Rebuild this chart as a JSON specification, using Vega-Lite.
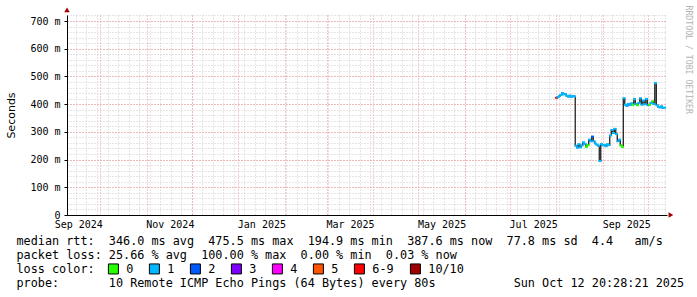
{
  "$schema": "https://vega.github.io/schema/vega-lite/v6.json",
  "width": 600,
  "height": 200,
  "autosize": {"type": "none"},
  "padding": {"left": 67, "top": 15, "right": 30, "bottom": 82},
  "background": "white",
  "config": {
    "view": {"stroke": null},
    "axis": {"labelFont": "DejaVu Sans Mono", "labelFontSize": 10, "labelColor": "#000000", "titleColor": "#000000"}
  },
  "data": {"values": [
    {"t": "2025-08-01T00:00", "rtt": 0.423, "loss": "6-9"},
    {"t": "2025-08-02T00:00", "rtt": 0.425, "loss": "1"},
    {"t": "2025-08-03T00:00", "rtt": 0.429, "loss": "1"},
    {"t": "2025-08-04T00:00", "rtt": 0.433, "loss": "1"},
    {"t": "2025-08-05T00:00", "rtt": 0.440, "loss": "1"},
    {"t": "2025-08-06T00:00", "rtt": 0.435, "loss": "1"},
    {"t": "2025-08-07T00:00", "rtt": 0.437, "loss": "1"},
    {"t": "2025-08-08T00:00", "rtt": 0.430, "loss": "1"},
    {"t": "2025-08-09T00:00", "rtt": 0.427, "loss": "1"},
    {"t": "2025-08-10T00:00", "rtt": 0.431, "loss": "1"},
    {"t": "2025-08-11T00:00", "rtt": 0.426, "loss": "1"},
    {"t": "2025-08-12T00:00", "rtt": 0.429, "loss": "1"},
    {"t": "2025-08-13T00:00", "rtt": 0.428, "loss": "1"},
    {"t": "2025-08-14T00:00", "rtt": 0.250, "loss": "1"},
    {"t": "2025-08-15T00:00", "rtt": 0.243, "loss": "1"},
    {"t": "2025-08-16T00:00", "rtt": 0.255, "loss": "1"},
    {"t": "2025-08-17T00:00", "rtt": 0.244, "loss": "1"},
    {"t": "2025-08-18T00:00", "rtt": 0.251, "loss": "1"},
    {"t": "2025-08-19T00:00", "rtt": 0.262, "loss": "1"},
    {"t": "2025-08-20T00:00", "rtt": 0.257, "loss": "1"},
    {"t": "2025-08-21T00:00", "rtt": 0.246, "loss": "0"},
    {"t": "2025-08-22T00:00", "rtt": 0.252, "loss": "0"},
    {"t": "2025-08-23T00:00", "rtt": 0.272, "loss": "1"},
    {"t": "2025-08-24T00:00", "rtt": 0.266, "loss": "1"},
    {"t": "2025-08-25T00:00", "rtt": 0.283, "loss": "2"},
    {"t": "2025-08-26T00:00", "rtt": 0.266, "loss": "1"},
    {"t": "2025-08-27T00:00", "rtt": 0.258, "loss": "1"},
    {"t": "2025-08-28T00:00", "rtt": 0.254, "loss": "1"},
    {"t": "2025-08-29T00:00", "rtt": 0.250, "loss": "1"},
    {"t": "2025-08-30T00:00", "rtt": 0.195, "loss": "1"},
    {"t": "2025-08-31T00:00", "rtt": 0.256, "loss": "1"},
    {"t": "2025-09-01T00:00", "rtt": 0.251, "loss": "1"},
    {"t": "2025-09-02T00:00", "rtt": 0.253, "loss": "1"},
    {"t": "2025-09-03T00:00", "rtt": 0.248, "loss": "1"},
    {"t": "2025-09-04T00:00", "rtt": 0.255, "loss": "1"},
    {"t": "2025-09-05T00:00", "rtt": 0.252, "loss": "1"},
    {"t": "2025-09-06T00:00", "rtt": 0.287, "loss": "1"},
    {"t": "2025-09-07T00:00", "rtt": 0.307, "loss": "1"},
    {"t": "2025-09-08T00:00", "rtt": 0.296, "loss": "1"},
    {"t": "2025-09-09T00:00", "rtt": 0.311, "loss": "1"},
    {"t": "2025-09-10T00:00", "rtt": 0.292, "loss": "1"},
    {"t": "2025-09-11T00:00", "rtt": 0.266, "loss": "1"},
    {"t": "2025-09-12T00:00", "rtt": 0.272, "loss": "1"},
    {"t": "2025-09-13T00:00", "rtt": 0.251, "loss": "0"},
    {"t": "2025-09-14T00:00", "rtt": 0.246, "loss": "0"},
    {"t": "2025-09-15T00:00", "rtt": 0.421, "loss": "1"},
    {"t": "2025-09-16T00:00", "rtt": 0.398, "loss": "1"},
    {"t": "2025-09-17T00:00", "rtt": 0.394, "loss": "1"},
    {"t": "2025-09-18T00:00", "rtt": 0.401, "loss": "1"},
    {"t": "2025-09-19T00:00", "rtt": 0.397, "loss": "1"},
    {"t": "2025-09-20T00:00", "rtt": 0.403, "loss": "1"},
    {"t": "2025-09-21T00:00", "rtt": 0.398, "loss": "0"},
    {"t": "2025-09-22T00:00", "rtt": 0.418, "loss": "1"},
    {"t": "2025-09-23T00:00", "rtt": 0.400, "loss": "1"},
    {"t": "2025-09-24T00:00", "rtt": 0.396, "loss": "0"},
    {"t": "2025-09-25T00:00", "rtt": 0.405, "loss": "1"},
    {"t": "2025-09-26T00:00", "rtt": 0.421, "loss": "1"},
    {"t": "2025-09-27T00:00", "rtt": 0.398, "loss": "1"},
    {"t": "2025-09-28T00:00", "rtt": 0.413, "loss": "1"},
    {"t": "2025-09-29T00:00", "rtt": 0.400, "loss": "1"},
    {"t": "2025-09-30T00:00", "rtt": 0.419, "loss": "1"},
    {"t": "2025-10-01T00:00", "rtt": 0.396, "loss": "1"},
    {"t": "2025-10-02T00:00", "rtt": 0.398, "loss": "0"},
    {"t": "2025-10-03T00:00", "rtt": 0.405, "loss": "1"},
    {"t": "2025-10-04T00:00", "rtt": 0.410, "loss": "0"},
    {"t": "2025-10-05T00:00", "rtt": 0.401, "loss": "1"},
    {"t": "2025-10-06T00:00", "rtt": 0.476, "loss": "1"},
    {"t": "2025-10-07T00:00", "rtt": 0.396, "loss": "1"},
    {"t": "2025-10-08T00:00", "rtt": 0.390, "loss": "1"},
    {"t": "2025-10-09T00:00", "rtt": 0.388, "loss": "1"},
    {"t": "2025-10-10T00:00", "rtt": 0.392, "loss": "1"},
    {"t": "2025-10-11T00:00", "rtt": 0.386, "loss": "1"},
    {"t": "2025-10-12T00:00", "rtt": 0.3876, "loss": "1"}
  ]},
  "resolve": {"axis": {"x": "independent", "y": "independent"}},
  "layer": [
    {
      "mark": {"type": "line", "interpolate": "step", "color": "#111111", "strokeWidth": 1.2},
      "encoding": {
        "x": {"field": "t", "type": "temporal",
          "scale": {"domain": [{"year": 2024, "month": 9, "date": 9, "hours": 0, "minutes": 30}, {"year": 2025, "month": 10, "date": 13, "hours": 15}], "nice": false},
          "axis": {"orient": "bottom", "grid": true, "gridColor": "#cccccc", "gridDash": [1, 2], "tickCount": {"interval": "week", "step": 1}, "labels": false, "ticks": false, "domain": false, "title": null}},
        "y": {"field": "rtt", "type": "quantitative",
          "scale": {"domain": [0, 0.7217], "nice": false, "zero": true},
          "axis": {"orient": "left", "grid": true, "gridColor": "#cccccc", "gridDash": [1, 2], "values": [0.02, 0.04, 0.06, 0.08, 0.1, 0.12, 0.14, 0.16, 0.18, 0.2, 0.22, 0.24, 0.26, 0.28, 0.3, 0.32, 0.34, 0.36, 0.38, 0.4, 0.42, 0.44, 0.46, 0.48, 0.5, 0.52, 0.54, 0.56, 0.58, 0.6, 0.62, 0.64, 0.66, 0.68, 0.7, 0.72], "labels": false, "ticks": false, "domain": false, "title": null}}
      }
    },
    {
      "mark": {"type": "tick", "orient": "horizontal", "size": 3, "thickness": 2, "opacity": 1},
      "encoding": {
        "x": {"field": "t", "type": "temporal",
          "scale": {"domain": [{"year": 2024, "month": 9, "date": 9, "hours": 0, "minutes": 30}, {"year": 2025, "month": 10, "date": 13, "hours": 15}], "nice": false},
          "axis": {"orient": "bottom", "grid": true, "gridColor": "#f09090", "gridDash": [1, 2], "tickCount": {"interval": "month", "step": 1}, "labels": false, "ticks": false, "domain": false, "title": null}},
        "y": {"field": "rtt", "type": "quantitative",
          "scale": {"domain": [0, 0.7217], "nice": false, "zero": true},
          "axis": {"orient": "left", "grid": true, "gridColor": "#f09090", "gridDash": [1, 2], "values": [0, 0.1, 0.2, 0.3, 0.4, 0.5, 0.6, 0.7],
            "labelExpr": "datum.value == 0 ? '0' : format(datum.value * 1000, 'd') + '\u00a0m'",
            "tickSize": 3, "tickColor": "#000000", "labelPadding": 4, "domain": true, "domainColor": "#000000",
            "title": "Seconds", "titleFont": "DejaVu Sans", "titleFontSize": 11, "titleFontWeight": "normal",
            "titleAngle": -90, "titleX": -56, "titleY": 100, "titleAlign": "center", "titleBaseline": "middle"}},
        "color": {"field": "loss", "type": "nominal",
          "scale": {"domain": ["0", "1", "2", "3", "4", "5", "6-9", "10/10"], "range": ["#26ff00", "#00b8ff", "#0059ff", "#7e00ff", "#ff00ff", "#ff5500", "#ff0000", "#a10000"]},
          "legend": {"orient": "none", "legendX": 40.5, "legendY": 248, "direction": "horizontal", "title": null,
            "symbolType": "square", "symbolSize": 100, "symbolStrokeColor": "#000000", "symbolStrokeWidth": 1, "symbolOpacity": 1,
            "labelFont": "DejaVu Sans Mono", "labelFontSize": 11.8, "labelColor": "#000000", "labelOffset": 7, "columnPadding": 13, "padding": 0}}
      }
    },
    {
      "data": {"values": [{}]},
      "mark": {"type": "point", "shape": "triangle-up", "filled": true, "color": "#a00000", "size": 30, "opacity": 1},
      "encoding": {
        "x": {"datum": {"year": 2024, "month": 9, "date": 9, "hours": 0, "minutes": 30}, "type": "temporal",
          "scale": {"domain": [{"year": 2024, "month": 9, "date": 9, "hours": 0, "minutes": 30}, {"year": 2025, "month": 10, "date": 13, "hours": 15}], "nice": false},
          "axis": {"orient": "bottom", "values": [
              {"year": 2024, "month": 9, "date": 16, "hours": 12},
              {"year": 2024, "month": 11, "date": 16, "hours": 12},
              {"year": 2025, "month": 1, "date": 16, "hours": 12},
              {"year": 2025, "month": 3, "date": 16, "hours": 12},
              {"year": 2025, "month": 5, "date": 16, "hours": 12},
              {"year": 2025, "month": 7, "date": 16, "hours": 12},
              {"year": 2025, "month": 9, "date": 16, "hours": 12}],
            "format": "%b %Y", "labelFlush": false, "labelOverlap": false, "labelPadding": 4,
            "ticks": false, "grid": false, "domain": true, "domainColor": "#000000",
            "title": [
              "median\u00a0rtt:\u00a0\u00a0346.0\u00a0ms\u00a0avg\u00a0\u00a0475.5\u00a0ms\u00a0max\u00a0\u00a0194.9\u00a0ms\u00a0min\u00a0\u00a0387.6\u00a0ms\u00a0now\u00a0\u00a077.8\u00a0ms\u00a0sd\u00a0\u00a04.4\u00a0\u00a0\u00a0am/s",
              "packet\u00a0loss:\u00a025.66\u00a0%\u00a0avg\u00a0\u00a0100.00\u00a0%\u00a0max\u00a0\u00a00.00\u00a0%\u00a0min\u00a0\u00a00.03\u00a0%\u00a0now",
              "loss\u00a0color:",
              "probe:\u00a0\u00a0\u00a0\u00a0\u00a0\u00a0\u00a010\u00a0Remote\u00a0ICMP\u00a0Echo\u00a0Pings\u00a0(64\u00a0Bytes)\u00a0every\u00a080s\u00a0\u00a0\u00a0\u00a0\u00a0\u00a0\u00a0\u00a0\u00a0\u00a0\u00a0Sun\u00a0Oct\u00a012\u00a020:28:21\u00a02025"],
            "titleFont": "DejaVu Sans Mono", "titleFontSize": 11.8, "titleFontWeight": "normal",
            "titleX": -51, "titleY": 29.5, "titleAlign": "left", "titleBaseline": "alphabetic", "titleLineHeight": 14, "titleLimit": 0}},
        "y": {"datum": 0.74, "type": "quantitative",
          "scale": {"domain": [0, 0.7217], "nice": false, "zero": true},
          "axis": {"orient": "right", "labels": false, "ticks": false, "domain": false, "grid": false,
            "title": "RRDTOOL\u00a0/\u00a0TOBI\u00a0OETIKER", "titleFont": "DejaVu Sans Mono", "titleFontSize": 8.2, "titleFontWeight": "normal",
            "titleColor": "#b4b4b4", "titleAngle": 90, "titleX": 20, "titleY": -10, "titleAlign": "left", "titleBaseline": "middle"}}
      }
    },
    {
      "data": {"values": [{}]},
      "mark": {"type": "point", "shape": "triangle-right", "filled": true, "color": "#a00000", "size": 30, "opacity": 1},
      "encoding": {
        "x": {"datum": {"year": 2025, "month": 10, "date": 16, "hours": 6}, "type": "temporal",
          "scale": {"domain": [{"year": 2024, "month": 9, "date": 9, "hours": 0, "minutes": 30}, {"year": 2025, "month": 10, "date": 13, "hours": 15}], "nice": false},
          "axis": null},
        "y": {"datum": 0, "type": "quantitative",
          "scale": {"domain": [0, 0.7217], "nice": false, "zero": true},
          "axis": null}
      }
    }
  ]
}
